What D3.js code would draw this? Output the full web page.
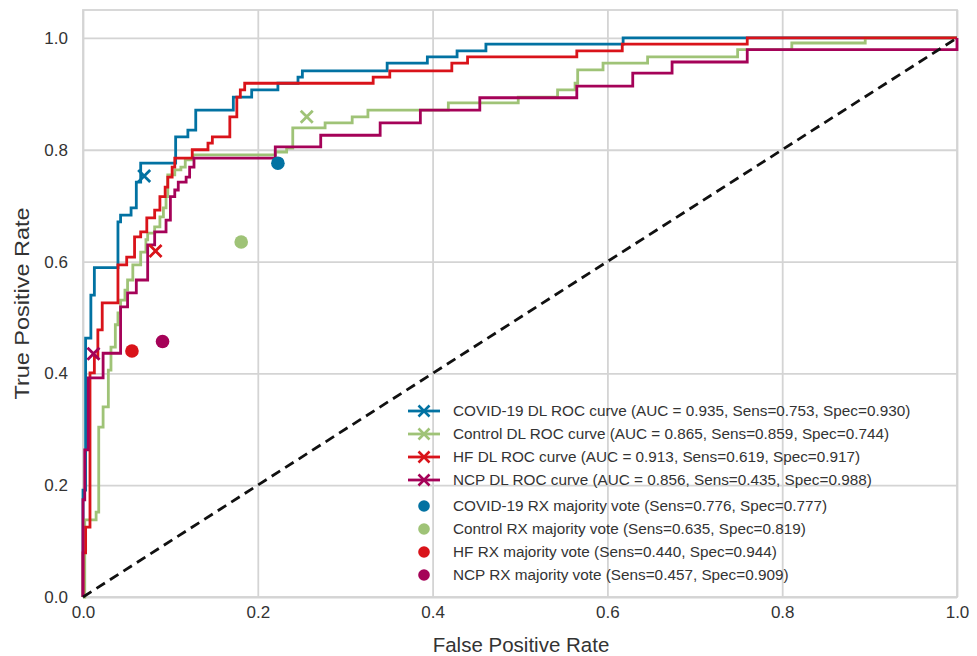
<!DOCTYPE html>
<html>
<head>
<meta charset="utf-8">
<script src="https://cdn.jsdelivr.net/npm/d3@7"></script>
<style>
  html, body { margin: 0; padding: 0; background: #fff; }
  svg { display: block; font-family: "Liberation Sans", Arial, sans-serif; }
</style>
</head>
<body>
<svg id="chart" width="977" height="656"></svg>
<script>
// ---------- data ----------
const xTicks = [0, 0.2, 0.4, 0.6, 0.8, 1.0];
const yTicks = [0, 0.2, 0.4, 0.6, 0.8, 1.0];

const seriesNames = ["COVID-19", "Control", "HF", "NCP"];
const seriesColors = ["#0272a2", "#9fc377", "#d9131a", "#a50258"];

// ROC corner points (fpr, tpr) at the top of each vertical rise
const covidFpr = [0, 0, 0.003, 0.009, 0.013, 0.040, 0.043, 0.055, 0.061, 0.066, 0.106, 0.120, 0.129, 0.172, 0.193, 0.223, 0.246, 0.251, 0.348, 0.394, 0.428, 0.461, 0.618, 1];
const covidTpr = [0, 0.191, 0.463, 0.540, 0.589, 0.671, 0.683, 0.696, 0.742, 0.776, 0.823, 0.835, 0.871, 0.894, 0.907, 0.919, 0.930, 0.941, 0.955, 0.966, 0.977, 0.989, 1.0, 1.0];

const controlFpr = [0, 0.002, 0.015, 0.018, 0.023, 0.029, 0.032, 0.037, 0.040, 0.043, 0.048, 0.051, 0.057, 0.066, 0.072, 0.074, 0.082, 0.088, 0.092, 0.095, 0.097, 0.105, 0.112, 0.117, 0.126, 0.220, 0.233, 0.240, 0.277, 0.308, 0.326, 0.418, 0.498, 0.543, 0.563, 0.566, 0.595, 0.646, 0.749, 0.811, 0.895, 1];
const controlTpr = [0, 0.138, 0.152, 0.304, 0.340, 0.406, 0.447, 0.487, 0.508, 0.531, 0.549, 0.567, 0.594, 0.617, 0.639, 0.651, 0.662, 0.680, 0.696, 0.716, 0.755, 0.764, 0.769, 0.782, 0.791, 0.796, 0.803, 0.839, 0.848, 0.859, 0.871, 0.884, 0.894, 0.907, 0.919, 0.943, 0.955, 0.966, 0.979, 0.991, 1.0, 1.0];

const hfFpr = [0, 0, 0.003, 0.008, 0.013, 0.017, 0.022, 0.040, 0.050, 0.059, 0.066, 0.073, 0.082, 0.088, 0.094, 0.097, 0.102, 0.105, 0.125, 0.143, 0.148, 0.168, 0.176, 0.180, 0.185, 0.332, 0.351, 0.422, 0.440, 0.565, 0.617, 0.760, 1];
const hfTpr = [0, 0.079, 0.125, 0.401, 0.429, 0.478, 0.526, 0.594, 0.608, 0.644, 0.653, 0.678, 0.692, 0.716, 0.733, 0.751, 0.769, 0.785, 0.800, 0.812, 0.823, 0.859, 0.894, 0.907, 0.919, 0.930, 0.941, 0.955, 0.966, 0.977, 0.989, 1.0, 1.0];

const ncpFpr = [0, 0, 0.002, 0.006, 0.023, 0.043, 0.051, 0.061, 0.074, 0.082, 0.095, 0.100, 0.105, 0.109, 0.118, 0.122, 0.127, 0.220, 0.272, 0.340, 0.386, 0.454, 0.565, 0.629, 0.674, 0.760, 1];
const ncpTpr = [0, 0.174, 0.263, 0.392, 0.436, 0.519, 0.544, 0.567, 0.630, 0.653, 0.674, 0.716, 0.728, 0.742, 0.751, 0.769, 0.785, 0.805, 0.826, 0.848, 0.871, 0.893, 0.914, 0.937, 0.957, 0.979, 1.0];

// DL operating points and RX majority vote
const dlAuc  = [0.935, 0.865, 0.913, 0.856];
const dlSens = [0.753, 0.859, 0.619, 0.435];
const dlSpec = [0.930, 0.744, 0.917, 0.988];
const rxSens = [0.776, 0.635, 0.440, 0.457];
const rxSpec = [0.777, 0.819, 0.944, 0.909];

const curveLabels = [
  "COVID-19 DL ROC curve (AUC = 0.935, Sens=0.753, Spec=0.930)",
  "Control DL ROC curve (AUC = 0.865, Sens=0.859, Spec=0.744)",
  "HF DL ROC curve (AUC = 0.913, Sens=0.619, Spec=0.917)",
  "NCP DL ROC curve (AUC = 0.856, Sens=0.435, Spec=0.988)"
];
const voteLabels = [
  "COVID-19 RX majority vote (Sens=0.776, Spec=0.777)",
  "Control RX majority vote (Sens=0.635, Spec=0.819)",
  "HF RX majority vote (Sens=0.440, Spec=0.944)",
  "NCP RX majority vote (Sens=0.457, Spec=0.909)"
];

// ---------- layout ----------
const svg = d3.select("#chart");
const L = 83, R = 957, T = 10, B = 597;
const x = d3.scaleLinear().domain([0, 1]).range([L, R]);
const y = d3.scaleLinear().domain([0, 1.05]).range([B, T]);
const gridColor = "#d4d4d4";
const textColor = "#333333";

// grid
const gx = svg.append("g").attr("transform", `translate(0,${B})`)
  .call(d3.axisBottom(x).tickValues(xTicks).tickSize(-(B - T)).tickFormat(""));
gx.select(".domain").remove();
gx.selectAll("line").attr("stroke", gridColor).attr("stroke-width", 1.8);
const gy = svg.append("g").attr("transform", `translate(${L},0)`)
  .call(d3.axisLeft(y).tickValues(yTicks).tickSize(-(R - L)).tickFormat(""));
gy.select(".domain").remove();
gy.selectAll("line").attr("stroke", gridColor).attr("stroke-width", 1.8);

// frame
svg.append("rect").attr("x", L).attr("y", T).attr("width", R - L).attr("height", B - T)
  .attr("fill", "none").attr("stroke", gridColor).attr("stroke-width", 1.8);

// tick labels
const ax = svg.append("g").attr("transform", `translate(0,${B})`)
  .call(d3.axisBottom(x).tickValues(xTicks).tickSize(0).tickPadding(9).tickFormat(d3.format(".1f")));
ax.select(".domain").remove();
ax.selectAll("text").attr("font-size", 17).attr("fill", textColor).attr("font-family", "Liberation Sans, Arial, sans-serif");
const ay = svg.append("g").attr("transform", `translate(${L},0)`)
  .call(d3.axisLeft(y).tickValues(yTicks).tickSize(0).tickPadding(15).tickFormat(d3.format(".1f")));
ay.select(".domain").remove();
ay.selectAll("text").attr("font-size", 17).attr("fill", textColor).attr("font-family", "Liberation Sans, Arial, sans-serif");

// axis titles
svg.append("text").attr("x", (L + R) / 2 + 1).attr("y", 652).attr("text-anchor", "middle")
  .attr("font-size", 20.5).attr("fill", textColor).text("False Positive Rate");
svg.append("text").attr("transform", `translate(29,${(T + B) / 2}) rotate(-90)`).attr("text-anchor", "middle")
  .attr("font-size", 21).attr("fill", textColor)
  .attr("textLength", 192).attr("lengthAdjust", "spacingAndGlyphs").text("True Positive Rate");

// curves
const fprs = [covidFpr, controlFpr, hfFpr, ncpFpr];
const tprs = [covidTpr, controlTpr, hfTpr, ncpTpr];
const line = d3.line().x(d => x(d[0])).y(d => y(d[1])).curve(d3.curveStepAfter);
const plot = svg.append("g");
const xPath = s => `M${-s},${-s}L${s},${s}M${s},${-s}L${-s},${s}`;

seriesNames.forEach((name, i) => {
  const pts = fprs[i].map((f, k) => [f, tprs[i][k]]);
  plot.append("path").datum(pts).attr("d", line)
    .attr("fill", "none").attr("stroke", seriesColors[i]).attr("stroke-width", 2.8)
    .attr("stroke-linejoin", "miter");
});
seriesNames.forEach((name, i) => {
  plot.append("path").attr("d", xPath(6))
    .attr("transform", `translate(${x(1 - dlSpec[i])},${y(dlSens[i])})`)
    .attr("stroke", seriesColors[i]).attr("stroke-width", 2.8).attr("fill", "none");
});
seriesNames.forEach((name, i) => {
  plot.append("circle").attr("cx", x(1 - rxSpec[i])).attr("cy", y(rxSens[i])).attr("r", 6.8)
    .attr("fill", seriesColors[i]);
});

// chance diagonal
plot.append("line").attr("x1", x(0)).attr("y1", y(0)).attr("x2", x(1)).attr("y2", y(1))
  .attr("stroke", "#111").attr("stroke-width", 2.8).attr("stroke-dasharray", "10,6");

// legend
const lg = svg.append("g");
const rowY = [411, 434, 457, 480, 506, 529, 552, 575];
const hx0 = 408, hx1 = 440, tx = 453;
seriesNames.forEach((name, i) => {
  const ry = rowY[i];
  lg.append("line").attr("x1", hx0).attr("x2", hx1).attr("y1", ry).attr("y2", ry)
    .attr("stroke", seriesColors[i]).attr("stroke-width", 2.8);
  lg.append("path").attr("d", xPath(5.5)).attr("transform", `translate(${(hx0 + hx1) / 2},${ry})`)
    .attr("stroke", seriesColors[i]).attr("stroke-width", 2.6).attr("fill", "none");
  lg.append("text").attr("x", tx).attr("y", ry).attr("dy", "0.35em").attr("font-size", 15.3)
    .attr("fill", textColor).text(curveLabels[i]);
});
seriesNames.forEach((name, i) => {
  const ry = rowY[i + 4];
  lg.append("circle").attr("cx", (hx0 + hx1) / 2).attr("cy", ry).attr("r", 5.8).attr("fill", seriesColors[i]);
  lg.append("text").attr("x", tx).attr("y", ry).attr("dy", "0.35em").attr("font-size", 15.3)
    .attr("fill", textColor).text(voteLabels[i]);
});
</script>
</body>
</html>
